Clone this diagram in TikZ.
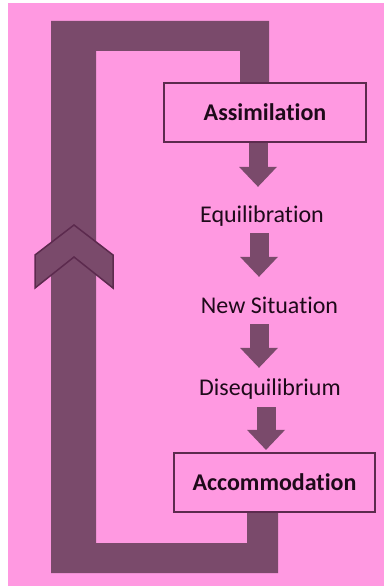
\documentclass[tikz,border=0pt]{standalone}
\usepackage{fontspec}
\setmainfont{Carlito}[Ligatures=NoCommon]
\usepackage{tikz}
\usetikzlibrary{arrows.meta,positioning,calc,backgrounds}

\definecolor{pinkbg}{HTML}{FF99E1}
\definecolor{loopcol}{HTML}{7A4A6B}
\definecolor{edgecol}{HTML}{5C2A4E}
\definecolor{inkcol}{HTML}{1E0A1A}

\begin{document}
\begin{tikzpicture}[x=1pt,y=-1pt,
  stagebox/.style={draw=edgecol, line width=2.2pt, fill=pinkbg, minimum height=59pt,
    inner sep=0pt, text=inkcol, font=\fontsize{24}{28}\selectfont\bfseries},
  stagetext/.style={inner sep=0pt, text height=16pt, text depth=5pt, text=inkcol,
    font=\fontsize{24}{28}\selectfont},
  blockarrow/.style={draw=loopcol, line width=19pt,
    -{Triangle[width=38pt,length=20pt,line width=0pt]}}]
\useasboundingbox (0,0) rectangle (384,586);

% Stages
\node[stagebox, minimum width=202pt] (assim) at (265,112.5) {Assimilation};
\node[stagetext] (equi) at (262,216.5) {Equilibration};
\node[stagetext] (newsit) at (269.5,307.5) {New Situation};
\node[stagetext] (diseq) at (270,389.5) {Disequilibrium};
\node[stagebox, minimum width=201pt] (acc) at (274.5,482.5) {Accommodation};

% Steps down
\draw[blockarrow, shorten >=19pt] ([xshift=-7pt]assim.south) -- ([xshift=-4pt]equi.north);
\draw[blockarrow, shorten <=6pt, shorten >=20pt] ([xshift=-3pt]equi.south) -- ([xshift=-10.5pt]newsit.north);
\draw[blockarrow, shorten <=6pt, shorten >=11pt] ([xshift=-10.5pt]newsit.south) -- ([xshift=-11pt]diseq.north);
\draw[blockarrow, shorten <=7pt, shorten >=2pt] ([xshift=-4pt]diseq.south) -- ([xshift=-8.5pt]acc.north);

% Loop back from accommodation to assimilation
\begin{scope}[on background layer]
\fill[pinkbg] (8,3) rectangle (384,586);
\fill[loopcol] (247,0 |- acc.south) -- (247,543) -- (96,543) -- (96,51) -- (240,51)
  -- (240,0 |- assim.north) -- (269,0 |- assim.north) -- (269,21) -- (51,21)
  -- (51,573) -- (278,573) -- (278,0 |- acc.south) -- cycle;
\end{scope}

% Chevron on the loop
\filldraw[fill=loopcol, draw=edgecol, line width=1.5pt, line join=miter]
  (74,225) -- (113,255) -- (113,288) -- (74,257) -- (35,288) -- (35,255) -- cycle;
\end{tikzpicture}
\end{document}
